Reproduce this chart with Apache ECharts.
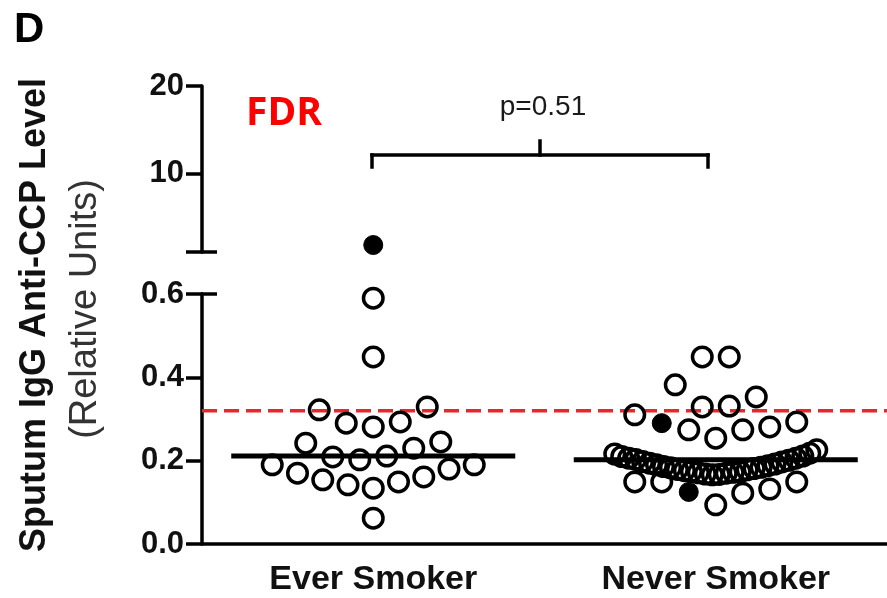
<!DOCTYPE html>
<html>
<head>
<meta charset="utf-8">
<script src="https://cdn.jsdelivr.net/npm/echarts@6/dist/echarts.min.js"></script>
<style>
html,body{margin:0;padding:0;background:#fff;}
#c{width:887px;height:598px;}
</style>
</head>
<body>
<div id="c"></div>
<script>
// ---- data ----
const categories = ['Ever Smoker', 'Never Smoker'];
// values listed in entry order (placement inside a row follows this order)
const everValues = [
  0.134, 0.142, 0.149, 0.154, 0.161, 0.170, 0.180, 0.190, 0.190,
  0.202, 0.211, 0.209, 0.230, 0.242, 0.245,
  0.281, 0.290, 0.293, 0.322, 0.329,
  0.062, 0.449, 0.590
];
const everSolidIdx = [];
const everHighValues = [1.8];        // shown on the upper (broken) segment, solid symbol
const neverValues = [
  0.094, 0.125, 0.122, 0.149, 0.132, 0.149, 0.149,
  0.166, 0.167, 0.168, 0.170, 0.171, 0.172, 0.174, 0.173, 0.176, 0.178,
  0.179, 0.181, 0.183, 0.184, 0.186, 0.188, 0.190, 0.192, 0.194, 0.197,
  0.198, 0.201, 0.203, 0.206, 0.206, 0.211, 0.210, 0.218, 0.216, 0.226,
  0.254, 0.274, 0.274, 0.290, 0.281, 0.310, 0.293,
  0.329, 0.331, 0.382, 0.353,
  0.449, 0.449
];
const neverSolidIdx = [1, 40];
const medians = [0.211, 0.202];
const cutoff = 0.32;
const lowerTicks = [0, 0.2, 0.4, 0.6];
const upperTicks = [10, 20];
const pText = 'p=0.51';

// ---- chart ----
const chart = echarts.init(document.getElementById('c'), null, {renderer: 'canvas'});
const F = '"Liberation Sans", Arial, Helvetica, sans-serif';
const BLACK = '#000';

const base = {
  animation: false,
  backgroundColor: '#fff',
  grid: [
    {left: 202, right: 0, top: 294, bottom: 54},
    {left: 202, right: 0, top: 86, height: 166}
  ],
  xAxis: [
    {type: 'category', gridIndex: 0, data: categories, boundaryGap: true,
     axisLine: {lineStyle: {color: BLACK, width: 3.5}},
     axisTick: {alignWithLabel: true, length: 16, lineStyle: {color: BLACK, width: 3.5}},
     axisLabel: {color: '#111', fontFamily: F, fontWeight: 'bold', fontSize: 34, margin: 19},
     splitLine: {show: false}},
    {type: 'value', gridIndex: 0, min: 0, max: 2, show: false},
    {type: 'value', gridIndex: 1, min: 0, max: 2, show: false}
  ],
  yAxis: [
    {type: 'value', gridIndex: 0, min: lowerTicks[0], max: lowerTicks[lowerTicks.length - 1], interval: 0.2,
     axisLine: {show: true, lineStyle: {color: BLACK, width: 3.5}},
     axisTick: {show: true, length: 16, lineStyle: {color: BLACK, width: 3.5}},
     axisLabel: {color: '#111', fontFamily: F, fontWeight: 'bold', fontSize: 31, margin: 18,
                 formatter: v => v.toFixed(1)},
     splitLine: {show: false}},
    {type: 'value', gridIndex: 1, min: 1, max: 20,
     axisLine: {show: true, lineStyle: {color: BLACK, width: 3.5}},
     axisTick: {show: true, length: 16, customValues: [1].concat(upperTicks), lineStyle: {color: BLACK, width: 3.5}},
     axisLabel: {color: '#111', fontFamily: F, fontWeight: 'bold', fontSize: 31, margin: 18,
                 customValues: upperTicks},
     splitLine: {show: false}}
  ],
  series: []
};
chart.setOption(base);

// ---- beeswarm-like row layout (GraphPad style) ----
const pxPerUnit = chart.convertToPixel({xAxisIndex: 1}, 1) - chart.convertToPixel({xAxisIndex: 1}, 0);
const SPACING = 27 / pxPerUnit;
const MAXW = 202 / pxPerUnit;
const BIN = 0.065;

function swarm(values, center) {
  const order = values.map((v, i) => i).sort((a, b) => values[a] - values[b] || a - b);
  const rows = [];
  let cur = null;
  order.forEach(i => {
    if (!cur || values[i] >= cur.start + BIN) { cur = {start: values[i], members: []}; rows.push(cur); }
    cur.members.push(i);
  });
  const xs = new Array(values.length);
  rows.forEach(r => {
    const m = r.members.slice().sort((a, b) => a - b);
    const n = m.length;
    const step = n > 1 ? Math.min(SPACING, MAXW / (n - 1)) : 0;
    m.forEach((idx, k) => {
      let slot;
      if (n % 2 === 1) slot = k === 0 ? 0 : (k % 2 === 1 ? -(k + 1) / 2 : k / 2);
      else slot = k % 2 === 0 ? -(k / 2 + 0.5) : ((k - 1) / 2 + 0.5);
      xs[idx] = center + slot * step;
    });
  });
  return xs;
}

function split(values, solidIdx, center) {
  const xs = swarm(values, center);
  const open = [], solid = [];
  values.forEach((v, i) => (solidIdx.indexOf(i) >= 0 ? solid : open).push([xs[i], v]));
  return {open, solid};
}
const ever = split(everValues, everSolidIdx, 0.5);
const never = split(neverValues, neverSolidIdx, 1.5);

const openStyle = {color: 'rgba(0,0,0,0)', borderColor: BLACK, borderWidth: 3.5, opacity: 1};
const solidStyle = {color: BLACK, borderColor: BLACK, borderWidth: 1, opacity: 1};
const HALF = 142 / pxPerUnit;

chart.setOption({
  series: [
    {type: 'line', xAxisIndex: 1, yAxisIndex: 0, symbol: 'none', z: 3,
     data: [[0.5 - HALF, medians[0]], [0.5 + HALF, medians[0]]],
     lineStyle: {color: BLACK, width: 5}},
    {type: 'line', xAxisIndex: 1, yAxisIndex: 0, symbol: 'none', z: 3,
     data: [[1.5 - HALF, medians[1]], [1.5 + HALF, medians[1]]],
     lineStyle: {color: BLACK, width: 5}},
    {type: 'line', xAxisIndex: 1, yAxisIndex: 0, symbol: 'none', z: 2,
     data: [[0, cutoff], [2, cutoff]],
     lineStyle: {color: '#e8262b', width: 3.5, type: [15, 7]}},
    {type: 'scatter', xAxisIndex: 1, yAxisIndex: 0, symbol: 'circle', symbolSize: 19.5, z: 4,
     data: ever.open.concat(never.open), itemStyle: openStyle},
    {type: 'scatter', xAxisIndex: 1, yAxisIndex: 0, symbol: 'circle', symbolSize: 19, z: 5,
     data: ever.solid.concat(never.solid), itemStyle: solidStyle},
    {type: 'scatter', xAxisIndex: 2, yAxisIndex: 1, symbol: 'circle', symbolSize: 19, z: 5,
     data: everHighValues.map(v => [0.5, v]), itemStyle: solidStyle}
  ]
});

// ---- annotations ----
const axisX = chart.convertToPixel({xAxisIndex: 1}, 0);
const yTopLower = chart.convertToPixel({yAxisIndex: 0}, lowerTicks[lowerTicks.length - 1]);
const yBotUpper = chart.convertToPixel({yAxisIndex: 1}, 1);
const capLine = y => ({type: 'line', shape: {x1: axisX - 1, y1: y, x2: axisX + 15, y2: y},
                       style: {stroke: BLACK, lineWidth: 3.5}, z: 10});
const brL = 372, brR = 708, brY = 155, brMid = (brL + brR) / 2;
const seg = (x1, y1, x2, y2) => ({type: 'line', shape: {x1, y1, x2, y2},
                                  style: {stroke: BLACK, lineWidth: 3.5, lineCap: 'square'}, z: 10});

chart.setOption({
  graphic: [
    capLine(yTopLower),
    capLine(yBotUpper),
    seg(brL, brY, brR, brY),
    seg(brL, brY, brL, brY + 12),
    seg(brR, brY, brR, brY + 12),
    seg(brMid, brY - 14, brMid, brY),
    {type: 'text', x: 543, y: 107, z: 10,
     style: {text: pText, fontFamily: F, fontSize: 28, fill: '#1a1a1a', align: 'center', verticalAlign: 'middle'}},
    {type: 'text', x: 14, y: 30, z: 10,
     style: {text: 'D', fontFamily: F, fontSize: 42, fontWeight: 'bold', fill: BLACK, align: 'left', verticalAlign: 'middle'}},
    {type: 'text', x: 246, y: 114, z: 10,
     style: {text: 'FDR', fontFamily: '"Open Sans", "Liberation Sans", sans-serif', fontSize: 39, fontWeight: 'bold',
             fill: '#ff0000', align: 'left', verticalAlign: 'middle'}},
    {type: 'text', x: 35, y: 315, rotation: Math.PI / 2, z: 10,
     style: {text: 'Sputum IgG Anti-CCP Level', fontFamily: F, fontSize: 36, fontWeight: 'bold',
             fill: '#111', align: 'center', verticalAlign: 'middle'}},
    {type: 'text', x: 86, y: 309, rotation: Math.PI / 2, z: 10,
     style: {text: '(Relative Units)', fontFamily: F, fontSize: 38,
             fill: '#333', align: 'center', verticalAlign: 'middle'}}
  ]
});
</script>
</body>
</html>
